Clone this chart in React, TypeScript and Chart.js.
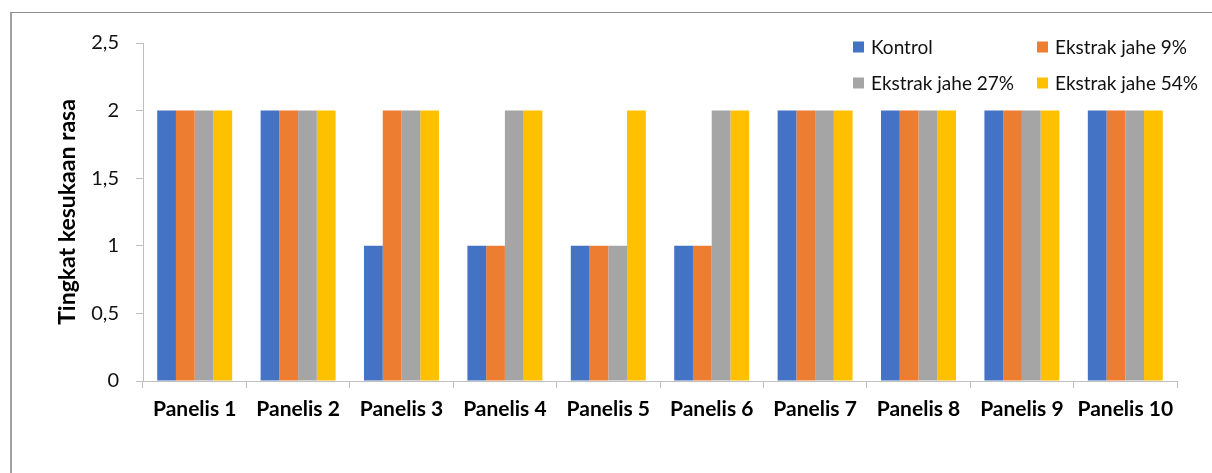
import React, { useEffect, useRef } from "react";
import { Chart, registerables } from "chart.js";

Chart.register(...registerables);

const categories = [
  "Panelis 1", "Panelis 2", "Panelis 3", "Panelis 4", "Panelis 5",
  "Panelis 6", "Panelis 7", "Panelis 8", "Panelis 9", "Panelis 10",
];
const seriesNames = ["Kontrol", "Ekstrak jahe 9%", "Ekstrak jahe 27%", "Ekstrak jahe 54%"];
const kontrol = [2, 2, 1, 1, 1, 1, 2, 2, 2, 2];
const jahe9 = [2, 2, 2, 1, 1, 1, 2, 2, 2, 2];
const jahe27 = [2, 2, 2, 2, 1, 2, 2, 2, 2, 2];
const jahe54 = [2, 2, 2, 2, 2, 2, 2, 2, 2, 2];
const yTicks = [0, 0.5, 1, 1.5, 2, 2.5];
const yTitle = "Tingkat kesukaan rasa";

const colors = ["#4472C4", "#ED7D31", "#A5A5A5", "#FFC000"];
const FONT = "Lato, 'Open Sans', sans-serif";

const legendPlugin = {
  id: "gridLegend",
  afterDraw(chart: any) {
    const ctx = chart.ctx;
    const cols = [853, 1037];
    const rows = [47, 83];
    ctx.save();
    ctx.font = `19px ${FONT}`;
    ctx.textBaseline = "middle";
    ctx.textAlign = "left";
    chart.data.datasets.forEach((ds: any, i: number) => {
      const x = cols[i % 2];
      const y = rows[Math.floor(i / 2)];
      ctx.fillStyle = ds.backgroundColor;
      ctx.fillRect(x, y - 5.5, 11, 11);
      ctx.fillStyle = "#111";
      ctx.fillText(ds.label, x + 18, y + 1);
    });
    ctx.restore();
  },
};

export default function App() {
  const ref = useRef<HTMLCanvasElement>(null);
  useEffect(() => {
    if (!ref.current) return;
    const series = [kontrol, jahe9, jahe27, jahe54];
    const chart = new Chart(ref.current, {
      type: "bar",
      data: {
        labels: categories,
        datasets: series.map((d, i) => ({
          label: seriesNames[i],
          data: d,
          backgroundColor: colors[i],
          borderWidth: 0,
          categoryPercentage: 0.725,
          barPercentage: 1.0,
        })),
      },
      options: {
        animation: false,
        responsive: true,
        maintainAspectRatio: false,
        layout: { padding: { left: 54, top: 43, right: 35, bottom: 42 } },
        plugins: {
          legend: { display: false },
          tooltip: { enabled: false },
        },
        scales: {
          x: {
            grid: {
              display: true,
              drawOnChartArea: false,
              drawTicks: true,
              tickLength: 7,
              color: "#BFBFBF",
              offset: true,
            },
            border: { display: true, color: "#BFBFBF", width: 1 },
            ticks: {
              font: { family: FONT, size: 21, weight: "bold" },
              color: "#000",
              padding: 9,
              maxRotation: 0,
              autoSkip: false,
            },
            afterFit: (s: any) => { s.height = 50; },
          },
          y: {
            min: 0,
            max: 2.5,
            afterBuildTicks: (s: any) => { s.ticks = yTicks.map((v) => ({ value: v })); },
            grid: {
              display: true,
              drawOnChartArea: false,
              drawTicks: true,
              tickLength: 7,
              color: "#BFBFBF",
            },
            border: { display: true, color: "#BFBFBF", width: 1 },
            ticks: {
              font: { family: FONT, size: 20 },
              color: "#111",
              padding: 17,
              callback: (v: any) => String(v).replace(".", ","),
            },
            title: {
              display: true,
              text: yTitle,
              font: { family: FONT, size: 23, weight: "bold" },
              color: "#000",
              padding: 0,
            },
            afterFit: (s: any) => { s.width = 89; },
          },
        },
      },
      plugins: [legendPlugin],
    });
    return () => chart.destroy();
  }, []);

  return (
    <div style={{ position: "fixed", left: 0, top: 0, width: 1212, height: 473, background: "#fff", overflow: "hidden" }}>
      <div
        style={{
          position: "absolute",
          left: 10,
          top: 12,
          width: 1210,
          height: 470,
          borderTop: "1px solid #8c8c8c",
          borderLeft: "2px solid #a0a0a0",
        }}
      />
      <canvas ref={ref} style={{ position: "absolute", left: 0, top: 0, width: 1212, height: 473 }} />
    </div>
  );
}
